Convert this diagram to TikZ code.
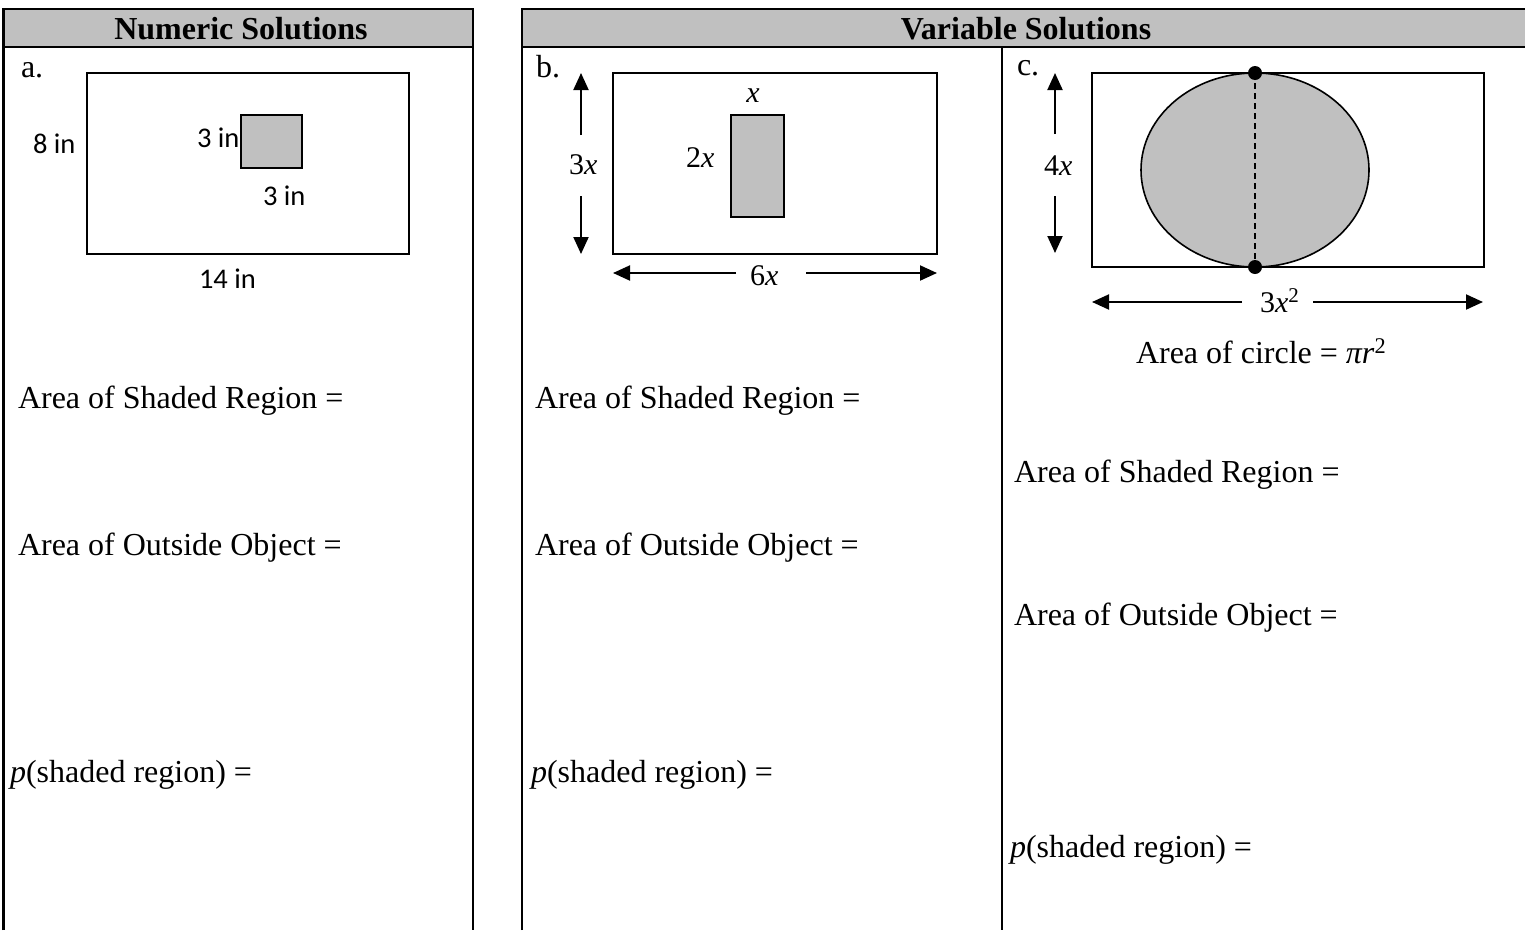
\documentclass[tikz,border=0pt]{standalone}
\usepackage{fontspec}
\setmainfont{Liberation Serif}
\newfontfamily\calibri{Carlito}
\usetikzlibrary{arrows.meta}
\definecolor{shadegray}{HTML}{C0C0C0}
\begin{document}
\begin{tikzpicture}[x=1pt,y=-1pt,
  txt/.style={inner sep=0pt, outer sep=0pt, font=\fontsize{32}{38}\selectfont},
  lbl/.style={inner sep=0pt, outer sep=0pt, font=\fontsize{30}{36}\selectfont},
  sans/.style={inner sep=0pt, outer sep=0pt, font=\calibri\fontsize{28.5}{34}\selectfont},
  hdr/.style={inner sep=0pt, outer sep=0pt, font=\bfseries\fontsize{32}{38}\selectfont},
  tbl/.style={line width=2.2pt},
  box/.style={line width=1.6pt},
  dim/.style={line width=2pt, -{Triangle[length=17pt,width=15pt]}},
  dot/.style={circle, fill=black, inner sep=0pt, minimum size=14pt},
]
\useasboundingbox (0,0) rectangle (1525,930);

% table headers
\fill[shadegray] (3.5,9) rectangle (473,47);
\fill[shadegray] (521.7,9) rectangle (1530,47);
\draw[tbl] (3.5,930) -- (3.5,9) -- (473,9) -- (473,930);
\draw[tbl] (3.5,47) -- (473,47);
\draw[tbl] (521.7,930) -- (521.7,9) -- (1530,9);
\draw[tbl] (521.7,47) -- (1530,47);
\draw[tbl] (1001.7,47) -- (1001.7,930);
\node[hdr, anchor=base] (h1) at (241,39) {Numeric Solutions};
\node[hdr, anchor=base] (h2) at (1026,39) {Variable Solutions};

% cell letters
\node[txt, anchor=base west] (la) at (21,77) {a.};
\node[txt, anchor=base west] (lb) at (536,77) {b.};
\node[txt, anchor=base west] (lc) at (1017,75) {c.};

% ---------- a ----------
\draw[box] (87,73) rectangle (409,254);
\draw[box, fill=shadegray] (241,115) rectangle (302,168);
\node[sans, anchor=base west] (a8) at (33,153) {8 in};
\node[sans, anchor=base west] (a3l) at (197,147) {3 in};
\node[sans, anchor=base west] (a3b) at (263,205) {3 in};
\node[sans, anchor=base west] (a14) at (199,288) {14 in};

% ---------- b ----------
\draw[box] (613,73) rectangle (937,254);
\draw[box, fill=shadegray] (731,115) rectangle (784,217);
\node[lbl, anchor=base] (bx) at (753,102) {\textit{x}};
\node[lbl, anchor=base west] (b2x) at (686,167) {2\textit{x}};
\node[lbl, anchor=base west] (b3x) at (569,174) {3\textit{x}};
\node[lbl, anchor=base west] (b6x) at (750,285) {6\textit{x}};
\coordinate (bvu0) at (581,135); \coordinate (bvu1) at (581,73);
\coordinate (bvd0) at (581,196); \coordinate (bvd1) at (581,254);
\coordinate (bhl0) at (736,273); \coordinate (bhl1) at (613,273);
\coordinate (bhr0) at (806,273); \coordinate (bhr1) at (937,273);
\draw[dim] (bvu0) -- (bvu1);
\draw[dim] (bvd0) -- (bvd1);
\draw[dim] (bhl0) -- (bhl1);
\draw[dim] (bhr0) -- (bhr1);

% ---------- c ----------
\draw[box] (1092,73) rectangle (1484,267);
\draw[box, fill=shadegray] (1255,170) ellipse [x radius=114pt, y radius=97pt];
\node[dot] (ctop) at (1255,73) {};
\node[dot] (cbot) at (1255,267) {};
\draw[line width=1.5pt, dash pattern=on 6pt off 4pt] (ctop.center) -- (cbot.center);
\node[lbl, anchor=base west] (c4x) at (1044,175) {4\textit{x}};
\node[lbl, anchor=base west] (c3x) at (1260,312) {3\textit{x}\textsuperscript{2}};
\coordinate (cvu0) at (1055,134); \coordinate (cvu1) at (1055,73);
\coordinate (cvd0) at (1055,196); \coordinate (cvd1) at (1055,253);
\coordinate (chl0) at (1242,302); \coordinate (chl1) at (1092,302);
\coordinate (chr0) at (1313,302); \coordinate (chr1) at (1483,302);
\draw[dim] (cvu0) -- (cvu1);
\draw[dim] (cvd0) -- (cvd1);
\draw[dim] (chl0) -- (chl1);
\draw[dim] (chr0) -- (chr1);
\node[txt, anchor=base west] (carea) at (1136,363) {Area of circle = \textit{πr}\textsuperscript{2}};

% ---------- answer rows ----------
\node[txt, anchor=base west] (a1) at (18,408) {Area of Shaded Region =};
\node[txt, anchor=base west] (a2) at (18,555) {Area of Outside Object =};
\node[txt, anchor=base west] (a3) at (10,782) {\textit{p}(shaded region) =};
\node[txt, anchor=base west] (b1) at (535,408) {Area of Shaded Region =};
\node[txt, anchor=base west] (b2) at (535,555) {Area of Outside Object =};
\node[txt, anchor=base west] (b3) at (531,782) {\textit{p}(shaded region) =};
\node[txt, anchor=base west] (c1) at (1014,482) {Area of Shaded Region =};
\node[txt, anchor=base west] (c2) at (1014,625) {Area of Outside Object =};
\node[txt, anchor=base west] (c3) at (1010,857) {\textit{p}(shaded region) =};
\end{tikzpicture}
\end{document}
